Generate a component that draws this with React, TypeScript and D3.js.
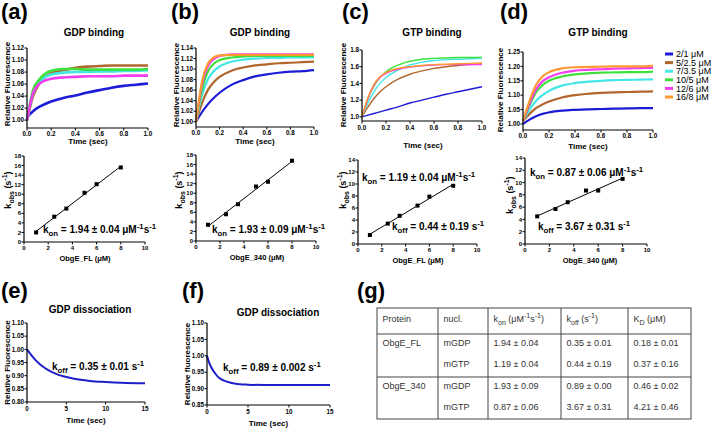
import React from "react";
import * as d3 from "d3";

const FONT = "'Liberation Sans', Arial, Helvetica, sans-serif";

// ---- binding traces (relative fluorescence vs time) ----
const concLabels = ["2/1 μM", "5/2.5 μM", "7/3.5 μM", "10/5 μM", "12/6 μM", "16/8 μM"];
const traceColors = ["#1c1cd8", "#b0662c", "#44e6e6", "#3ee03e", "#f03ef0", "#ff9a33"];
const bindTime = [0, 0.05, 0.1, 0.15, 0.2, 0.3, 0.4, 0.5, 0.6, 0.7, 0.8, 0.9, 1.0];

// (a) GDP binding, ObgE_FL (no 16/8 trace)
const gdpFL = [
  [1.005, 1.015, 1.022, 1.027, 1.031, 1.037, 1.041, 1.046, 1.05, 1.054, 1.057, 1.059, 1.061],
  [1.0, 1.04, 1.06, 1.072, 1.078, 1.083, 1.087, 1.089, 1.09, 1.091, 1.091, 1.091, 1.091],
  [1.0, 1.045, 1.063, 1.072, 1.076, 1.079, 1.08, 1.08, 1.081, 1.081, 1.082, 1.082, 1.083],
  [1.0, 1.05, 1.067, 1.077, 1.082, 1.085, 1.085, 1.084, 1.084, 1.084, 1.084, 1.084, 1.085],
  [1.0, 1.045, 1.06, 1.066, 1.069, 1.071, 1.072, 1.073, 1.073, 1.073, 1.074, 1.074, 1.074],
  null,
];
// (b) GDP binding, ObgE_340
const gdp340 = [
  [1.0, 1.018, 1.033, 1.045, 1.055, 1.07, 1.079, 1.086, 1.09, 1.093, 1.095, 1.096, 1.098],
  [1.0, 1.035, 1.06, 1.075, 1.085, 1.097, 1.103, 1.107, 1.109, 1.111, 1.112, 1.113, 1.114],
  [1.0, 1.05, 1.08, 1.096, 1.105, 1.114, 1.118, 1.12, 1.121, 1.121, 1.122, 1.122, 1.122],
  [1.0, 1.06, 1.095, 1.11, 1.117, 1.122, 1.124, 1.125, 1.125, 1.125, 1.125, 1.125, 1.125],
  [1.0, 1.07, 1.105, 1.119, 1.125, 1.128, 1.128, 1.128, 1.128, 1.128, 1.128, 1.128, 1.128],
  [1.0, 1.075, 1.11, 1.122, 1.126, 1.127, 1.127, 1.127, 1.127, 1.127, 1.127, 1.127, 1.127],
];
// (c) GTP binding, ObgE_FL
const gtpFL = [
  [1.0, 1.02, 1.04, 1.06, 1.08, 1.12, 1.165, 1.2, 1.235, 1.27, 1.3, 1.33, 1.36],
  [1.0, 1.12, 1.22, 1.3, 1.36, 1.45, 1.51, 1.55, 1.58, 1.6, 1.615, 1.625, 1.635],
  [1.0, 1.17, 1.3, 1.4, 1.47, 1.56, 1.62, 1.655, 1.675, 1.685, 1.69, 1.695, 1.7],
  [1.0, 1.22, 1.37, 1.47, 1.54, 1.62, 1.665, 1.69, 1.7, 1.705, 1.71, 1.71, 1.715],
  [1.0, 1.22, 1.38, 1.47, 1.52, 1.57, 1.595, 1.61, 1.62, 1.625, 1.625, 1.625, 1.625],
  [1.0, 1.23, 1.39, 1.48, 1.53, 1.58, 1.6, 1.615, 1.625, 1.63, 1.635, 1.64, 1.645],
];
// (d) GTP binding, ObgE_340
const gtp340 = [
  [1.0, 1.015, 1.027, 1.035, 1.04, 1.046, 1.049, 1.051, 1.052, 1.053, 1.054, 1.055, 1.055],
  [1.01, 1.035, 1.055, 1.068, 1.078, 1.092, 1.1, 1.105, 1.108, 1.11, 1.111, 1.112, 1.113],
  [1.01, 1.05, 1.08, 1.1, 1.115, 1.133, 1.142, 1.147, 1.15, 1.152, 1.153, 1.154, 1.155],
  [1.01, 1.065, 1.11, 1.135, 1.15, 1.165, 1.172, 1.176, 1.178, 1.179, 1.18, 1.18, 1.182],
  [1.01, 1.07, 1.12, 1.148, 1.162, 1.178, 1.185, 1.188, 1.19, 1.192, 1.193, 1.194, 1.195],
  [1.01, 1.08, 1.135, 1.165, 1.18, 1.193, 1.197, 1.198, 1.199, 1.2, 1.2, 1.2, 1.202],
];

// ---- kobs vs protein concentration ----
const proteinConc = [1, 2.5, 3.5, 5, 6, 8];
const kobsGdpFL = [2.0, 5.3, 7.0, 10.3, 12.1, 15.6];
const kobsGdp340 = [3.4, 5.6, 7.7, 11.4, 12.4, 16.8];
const kobsGtpFL = [1.5, 3.4, 4.7, 6.4, 7.9, 9.7];
const kobsGtp340 = [4.5, 5.7, 6.8, 8.7, 8.7, 10.6];

// ---- dissociation ----
const dissTimeE = [0, 0.5, 1, 1.5, 2, 3, 4, 5, 6, 8, 10, 12, 15];
const dissE = [1.0, 0.98, 0.962, 0.947, 0.935, 0.916, 0.903, 0.895, 0.888, 0.88, 0.876, 0.873, 0.871];
const dissTimeF = [0, 0.25, 0.5, 1, 1.5, 2, 3, 4, 5, 7, 10, 15];
const dissF = [1.0, 0.98, 0.966, 0.946, 0.932, 0.925, 0.917, 0.913, 0.912, 0.911, 0.911, 0.911];

// ---- ticks ----
const timeTicks = [0, 0.2, 0.4, 0.6, 0.8, 1.0];
const yTicksA = [1.0, 1.02, 1.04, 1.06, 1.08, 1.1, 1.12];
const yTicksB = [1.0, 1.02, 1.04, 1.06, 1.08, 1.1, 1.12, 1.14];
const yTicksC = [1.0, 1.2, 1.4, 1.6, 1.8];
const yTicksD = [1.0, 1.05, 1.1, 1.15, 1.2, 1.25];
const concTicks = [0, 2, 4, 6, 8, 10];
const kobsTicks18 = [0, 2, 4, 6, 8, 10, 12, 14, 16, 18];
const kobsTicks14 = [0, 2, 4, 6, 8, 10, 12, 14];
const dissTimeTicks = [0, 5, 10, 15];
const yTicksE = [0.8, 0.85, 0.9, 0.95, 1.0, 1.05, 1.1];
const yTicksF = [0.85, 0.9, 0.95, 1.0, 1.05, 1.1];

// ---- table (g) ----
const tableHeader = [
  [{ t: "Protein" }],
  [{ t: "nucl." }],
  [{ t: "k" }, { t: "on", s: "sub" }, { t: " (μM" }, { t: "-1", s: "sup" }, { t: "s" }, { t: "-1", s: "sup" }, { t: ")" }],
  [{ t: "k" }, { t: "off", s: "sub" }, { t: " (s" }, { t: "-1", s: "sup" }, { t: ")" }],
  [{ t: "K" }, { t: "D", s: "sub" }, { t: " (μM)" }],
];
const tableProtein = ["ObgE_FL", "", "ObgE_340", ""];
const tableNucl = ["mGDP", "mGTP", "mGDP", "mGTP"];
const tableKon = ["1.94 ± 0.04", "1.19 ± 0.04", "1.93 ± 0.09", "0.87 ± 0.06"];
const tableKoff = ["0.35 ± 0.01", "0.44 ± 0.19", "0.89 ± 0.00", "3.67 ± 0.31"];
const tableKd = ["0.18 ± 0.01", "0.37 ± 0.16", "0.46 ± 0.02", "4.21 ± 0.46"];

type Part = { t: string; s?: "sub" | "sup" };

function Rich({ x, y, parts, size, weight = "bold", anchor = "start", transform, fill = "#000" }: any) {
  let prev = 0;
  return (
    <text x={x} y={y} fontSize={size} fontWeight={weight} textAnchor={anchor} fontFamily={FONT}
      transform={transform} fill={fill}>
      {parts.map((p: Part, i: number) => {
        const off = p.s === "sub" ? size * 0.3 : p.s === "sup" ? -size * 0.42 : 0;
        const dy = off - prev;
        prev = off;
        return (
          <tspan key={i} dy={dy} fontSize={p.s ? size * 0.78 : size}>{p.t}</tspan>
        );
      })}
    </text>
  );
}

function Axes({ x, y, xTicks, yTicks, xFmt, yFmt, size = 6.3, xGap = 8.5 }: any) {
  const [x0, x1] = x.range();
  const [y0, y1] = y.range();
  return (
    <g fontFamily={FONT} fontWeight="bold" fontSize={size} fill="#000">
      <line x1={x0} x2={x0} y1={y0} y2={y1} stroke="#000" strokeWidth={1.2} />
      <line x1={x0} x2={x1} y1={y0} y2={y0} stroke="#000" strokeWidth={1.2} />
      {yTicks.map((v: number) => (
        <g key={"y" + v}>
          <line x1={x0 - 2.5} x2={x0} y1={y(v)} y2={y(v)} stroke="#000" strokeWidth={1} />
          <text x={x0 - 3} y={y(v)} dy="0.35em" textAnchor="end">{yFmt(v)}</text>
        </g>
      ))}
      {xTicks.map((v: number) => (
        <g key={"x" + v}>
          <line x1={x(v)} x2={x(v)} y1={y0} y2={y0 + 2.5} stroke="#000" strokeWidth={1} />
          <text x={x(v)} y={y0 + xGap} textAnchor="middle">{xFmt(v)}</text>
        </g>
      ))}
    </g>
  );
}

function BindingPanel({ xr, yr, yDomain, yTicks, yFmt, series, width, title, titleX, xLabelX, xLabelY, yLabelX, yLabelY, xGap }: any) {
  const x = d3.scaleLinear().domain([0, 1]).range(xr);
  const y = d3.scaleLinear().domain(yDomain).range(yr);
  const line = d3.line<number>().x((_, i) => x(bindTime[i])).y((d) => y(d)).curve(d3.curveMonotoneX);
  return (
    <g>
      <text x={titleX} y={36} textAnchor="middle" fontFamily={FONT} fontWeight="bold" fontSize={10}>{title}</text>
      {series.map((s: number[] | null, i: number) =>
        s ? <path key={i} d={line(s) || ""} fill="none" stroke={traceColors[i]} strokeWidth={width} /> : null
      )}
      <Axes x={x} y={y} xTicks={timeTicks} yTicks={yTicks} xFmt={d3.format(".1f")} yFmt={yFmt} xGap={xGap} />
      <text x={xLabelX} y={xLabelY} textAnchor="middle" fontFamily={FONT} fontWeight="bold" fontSize={8}>Time (sec)</text>
      <text transform={`translate(${yLabelX},${yLabelY}) rotate(-90)`} textAnchor="middle" fontFamily={FONT}
        fontWeight="bold" fontSize={8}>Relative Fluorescence</text>
    </g>
  );
}

function KobsPanel({ xr, yr, yMax, yTicks, kobs, xLabel, xLabelX, yLabelX, yLabelY, notes }: any) {
  const x = d3.scaleLinear().domain([0, 10]).range(xr);
  const y = d3.scaleLinear().domain([0, yMax]).range(yr);
  const mx = d3.mean(proteinConc) as number;
  const my = d3.mean(kobs as number[]) as number;
  const slope = (d3.sum(proteinConc, (c, i) => (c - mx) * (kobs[i] - my)) as number) /
    (d3.sum(proteinConc, (c) => (c - mx) * (c - mx)) as number);
  const icpt = my - slope * mx;
  const [cMin, cMax] = d3.extent(proteinConc) as [number, number];
  return (
    <g>
      <line x1={x(cMin)} y1={y(icpt + slope * cMin)} x2={x(cMax)} y2={y(icpt + slope * cMax)} stroke="#000" strokeWidth={1} />
      {proteinConc.map((c, i) => (
        <rect key={i} x={x(c) - 2} y={y(kobs[i]) - 2} width={4} height={4} fill="#000" />
      ))}
      <Axes x={x} y={y} xTicks={concTicks} yTicks={yTicks} xFmt={d3.format("d")} yFmt={d3.format("d")} size={6} xGap={8} />
      <text x={xLabelX} y={yr[0] + 19} textAnchor="middle" fontFamily={FONT} fontWeight="bold" fontSize={7.5}>{xLabel}</text>
      <Rich transform={`translate(${yLabelX},${yLabelY}) rotate(-90)`} x={0} y={0} anchor="middle" size={9}
        parts={[{ t: "k" }, { t: "obs", s: "sub" }, { t: " (s" }, { t: "-1", s: "sup" }, { t: ")" }]} />
      {notes.map((n: any, i: number) => (
        <Rich key={i} x={n.x} y={n.y} size={10} parts={n.parts} />
      ))}
    </g>
  );
}

function DissPanel({ xr, yr, yDomain, yTicks, time, values, title, titleX, titleY, yLabel, yLabelX, note, xGap, xLabelY }: any) {
  const x = d3.scaleLinear().domain([0, 15]).range(xr);
  const y = d3.scaleLinear().domain(yDomain).range(yr);
  const line = d3.line<number>().x((_, i) => x(time[i])).y((d) => y(d)).curve(d3.curveMonotoneX);
  return (
    <g>
      <text x={titleX} y={titleY} textAnchor="middle" fontFamily={FONT} fontWeight="bold" fontSize={10}>{title}</text>
      <path d={line(values) || ""} fill="none" stroke="#1e1ec8" strokeWidth={2} />
      <Axes x={x} y={y} xTicks={dissTimeTicks} yTicks={yTicks} xFmt={d3.format("d")} yFmt={d3.format(".2f")} xGap={9} />
      <text x={(xr[0] + xr[1]) / 2} y={xLabelY} textAnchor="middle" fontFamily={FONT} fontWeight="bold" fontSize={8}>Time (sec)</text>
      <text transform={`translate(${yLabelX},${(yr[0] + yr[1]) / 2}) rotate(-90)`} textAnchor="middle" fontFamily={FONT}
        fontWeight="bold" fontSize={8}>{yLabel}</text>
      <Rich x={note.x} y={note.y} size={10} parts={note.parts} />
    </g>
  );
}

const konParts = (v: string): Part[] => [
  { t: "k" }, { t: "on", s: "sub" }, { t: ` = ${v} μM` }, { t: "-1", s: "sup" }, { t: "s" }, { t: "-1", s: "sup" },
];
const koffParts = (v: string): Part[] => [{ t: "k" }, { t: "off", s: "sub" }, { t: ` = ${v} s` }, { t: "-1", s: "sup" }];

function Table() {
  const colEdges = [377, 438, 488, 561, 628, 691];
  const top = 308, headBottom = 334, groupLine = 377, bottom = 419;
  const rowY = d3.scalePoint<number>().domain([0, 1, 2, 3]).range([346, 410]);
  const cells = [tableProtein, tableNucl, tableKon, tableKoff, tableKd];
  const stroke = "#444";
  return (
    <g fontFamily={FONT} fontSize={9} fill="#333">
      <rect x={colEdges[0]} y={top} width={colEdges[5] - colEdges[0]} height={bottom - top} fill="none" stroke={stroke} strokeWidth={1} />
      {colEdges.slice(1, 5).map((cx) => (
        <line key={cx} x1={cx} x2={cx} y1={top} y2={bottom} stroke={stroke} strokeWidth={1} />
      ))}
      <line x1={colEdges[0]} x2={colEdges[5]} y1={headBottom} y2={headBottom} stroke={stroke} strokeWidth={1} />
      <line x1={colEdges[0]} x2={colEdges[5]} y1={groupLine} y2={groupLine} stroke={stroke} strokeWidth={1} />
      {tableHeader.map((h, c) => (
        <Rich key={c} x={colEdges[c] + 5.5} y={322} size={9} weight="normal" fill="#333" parts={h} />
      ))}
      {cells.map((col, c) =>
        col.map((v, r) => (
          <text key={c + "-" + r} x={colEdges[c] + 5.5} y={rowY(r)}>{v}</text>
        ))
      )}
    </g>
  );
}

export default function App() {
  document.body.style.margin = "0";
  const letter = (t: string, x: number, y: number) => (
    <text x={x} y={y} fontFamily={FONT} fontWeight="bold" fontSize={22}>{t}</text>
  );
  return (
    <svg width={713} height={428} style={{ display: "block", background: "#fff" }}>
      {letter("(a)", 1, 19)}
      {letter("(b)", 171, 19)}
      {letter("(c)", 342, 19)}
      {letter("(d)", 500, 19)}
      {letter("(e)", 1, 298)}
      {letter("(f)", 182, 298)}
      {letter("(g)", 357, 298)}

      <BindingPanel xr={[27, 148]} yr={[128, 48]} yDomain={[0.987, 1.12]} yTicks={yTicksA} yFmt={d3.format(".2f")}
        series={gdpFL} width={2.6} title="GDP binding" titleX={94} xLabelX={88} xLabelY={144} yLabelX={10} yLabelY={84} xGap={8} />
      <BindingPanel xr={[196, 314]} yr={[127, 48]} yDomain={[0.99, 1.14]} yTicks={yTicksB} yFmt={d3.format(".2f")}
        series={gdp340} width={2.2} title="GDP binding" titleX={260} xLabelX={255} xLabelY={144} yLabelX={179} yLabelY={85} xGap={8} />
      <BindingPanel xr={[362, 482]} yr={[121, 50]} yDomain={[0.95, 1.8]} yTicks={yTicksC} yFmt={d3.format(".1f")}
        series={gtpFL} width={1.4} title="GTP binding" titleX={432} xLabelX={423} xLabelY={148} yLabelX={346} yLabelY={85} xGap={9} />
      <BindingPanel xr={[523, 653]} yr={[130, 52]} yDomain={[0.979, 1.25]} yTicks={yTicksD} yFmt={d3.format(".2f")}
        series={gtp340} width={2.2} title="GTP binding" titleX={598} xLabelX={588} xLabelY={149} yLabelX={503} yLabelY={90} xGap={8} />

      <g fontFamily={FONT} fontSize={9}>
        {concLabels.map((l, i) => (
          <g key={l}>
            <rect x={665} y={52.5 + i * 8.6} width={8} height={3} fill={traceColors[i]} />
            <text x={676} y={54 + i * 8.6} dy="0.35em">{l}</text>
          </g>
        ))}
      </g>

      <KobsPanel xr={[24, 145]} yr={[242, 156]} yMax={18} yTicks={kobsTicks18} kobs={kobsGdpFL} xLabel="ObgE_FL (μM)"
        xLabelX={85} yLabelX={11} yLabelY={190} notes={[{ x: 43, y: 233, parts: konParts("1.94 ± 0.04") }]} />
      <KobsPanel xr={[196, 316]} yr={[241, 155]} yMax={18} yTicks={kobsTicks18} kobs={kobsGdp340} xLabel="ObgE_340 (μM)"
        xLabelX={257} yLabelX={182} yLabelY={190} notes={[{ x: 212, y: 233, parts: konParts("1.93 ± 0.09") }]} />
      <KobsPanel xr={[358, 477]} yr={[244, 160]} yMax={14} yTicks={kobsTicks14} kobs={kobsGtpFL} xLabel="ObgE_FL (μM)"
        xLabelX={418} yLabelX={346} yLabelY={190}
        notes={[{ x: 362, y: 181, parts: konParts("1.19 ± 0.04") }, { x: 392, y: 230, parts: koffParts("0.44 ± 0.19") }]} />
      <KobsPanel xr={[525, 647]} yr={[244, 158]} yMax={14} yTicks={kobsTicks14} kobs={kobsGtp340} xLabel="ObgE_340 (μM)"
        xLabelX={590} yLabelX={513} yLabelY={195}
        notes={[{ x: 530, y: 176, parts: konParts("0.87 ± 0.06") }, { x: 538, y: 230, parts: koffParts("3.67 ± 0.31") }]} />

      <DissPanel xr={[27, 145]} yr={[402, 323]} yDomain={[0.8, 1.1]} yTicks={yTicksE} time={dissTimeE} values={dissE}
        title="GDP dissociation" titleX={90} titleY={313} yLabel="Relative Fluorescence" yLabelX={10} xLabelY={423}
        note={{ x: 52, y: 370, parts: koffParts("0.35 ± 0.01") }} />
      <DissPanel xr={[207, 330]} yr={[405, 323]} yDomain={[0.85, 1.1]} yTicks={yTicksF} time={dissTimeF} values={dissF}
        title="GDP dissociation" titleX={278} titleY={316} yLabel="Relative fluorescence" yLabelX={190} xLabelY={426}
        note={{ x: 223, y: 371, parts: koffParts("0.89 ± 0.002") }} />

      <Table />
    </svg>
  );
}
